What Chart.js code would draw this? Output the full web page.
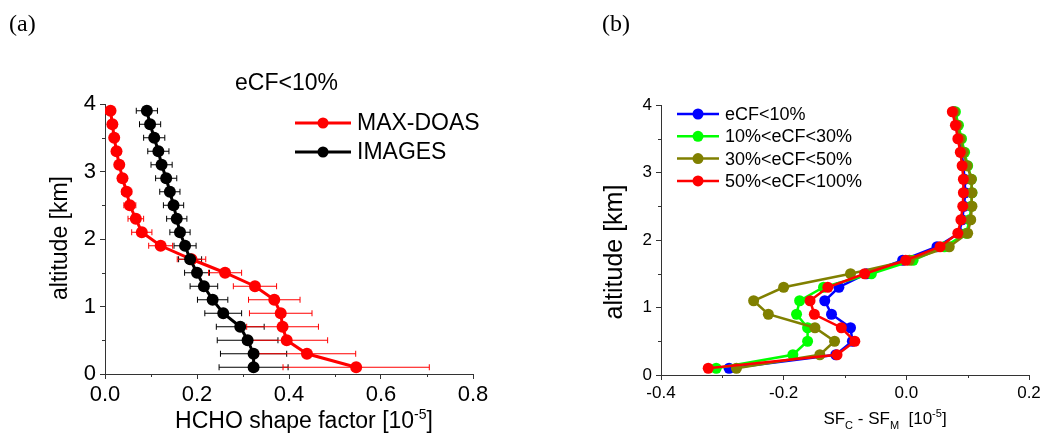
<!DOCTYPE html>
<html>
<head>
<meta charset="utf-8">
<script src="https://cdn.jsdelivr.net/npm/chart.js@4.4.0/dist/chart.umd.min.js"></script>
<style>
  html, body { margin: 0; padding: 0; background: #fff; }
  #wrap { position: relative; width: 1045px; height: 437px; overflow: hidden; }
  .panel { position: absolute; top: 0; height: 437px; }
</style>
</head>
<body>
<div id="wrap">
  <div class="panel" style="left:0;width:520px"><canvas id="chartA"></canvas></div>
  <div class="panel" style="left:520px;width:525px"><canvas id="chartB"></canvas></div>
</div>
<script>
// altitude levels [km]
const altitude = [0.1, 0.3, 0.5, 0.7, 0.9, 1.1, 1.3, 1.5, 1.7, 1.9, 2.1, 2.3, 2.5, 2.7, 2.9, 3.1, 3.3, 3.5, 3.7, 3.9];

// panel (a): shape factors
const maxDoas    = [0.546, 0.439, 0.395, 0.386, 0.382, 0.368, 0.326, 0.261, 0.188, 0.121, 0.080, 0.067, 0.054, 0.047, 0.038, 0.031, 0.025, 0.020, 0.016, 0.012];
const maxDoasErr = [0.159, 0.106, 0.089, 0.078, 0.068, 0.056, 0.047, 0.036, 0.031, 0.026, 0.022, 0.017, 0.013, 0.011, 0.009, 0.008, 0.007, 0.006, 0.005, 0.004];
const images     = [0.323, 0.323, 0.310, 0.294, 0.257, 0.234, 0.215, 0.200, 0.185, 0.174, 0.163, 0.156, 0.149, 0.141, 0.133, 0.123, 0.116, 0.107, 0.098, 0.091];
const imagesErr  = [0.075, 0.072, 0.066, 0.052, 0.040, 0.033, 0.030, 0.027, 0.025, 0.024, 0.022, 0.022, 0.022, 0.022, 0.023, 0.023, 0.023, 0.023, 0.023, 0.023];

// panel (b): SF_C - SF_M per cloud fraction class
const cf10     = [-0.289, -0.115, -0.088, -0.091, -0.122, -0.133, -0.110, -0.065, -0.006, 0.050, 0.086, 0.091, 0.094, 0.096, 0.095, 0.093, 0.090, 0.086, 0.082, 0.077];
const cf10_30  = [-0.310, -0.185, -0.161, -0.161, -0.179, -0.174, -0.135, -0.057, 0.011, 0.062, 0.098, 0.103, 0.106, 0.107, 0.106, 0.100, 0.095, 0.090, 0.085, 0.080];
const cf30_50  = [-0.277, -0.141, -0.117, -0.149, -0.225, -0.249, -0.200, -0.091, 0.005, 0.070, 0.100, 0.105, 0.107, 0.107, 0.106, 0.099, 0.093, 0.088, 0.083, 0.078];
const cf50_100 = [-0.323, -0.113, -0.084, -0.106, -0.150, -0.157, -0.128, -0.068, -0.001, 0.055, 0.084, 0.089, 0.092, 0.093, 0.093, 0.091, 0.088, 0.084, 0.080, 0.075];

// tick labels
const xTicksA = [0, 0.2, 0.4, 0.6, 0.8];
const xMinorA = [0.1, 0.3, 0.5, 0.7];
const xTicksB = [-0.4, -0.2, 0, 0.2];
const xMinorB = [-0.3, -0.1, 0.1];
const yTicks  = [0, 1, 2, 3, 4];
const yMinor  = [0.5, 1.5, 2.5, 3.5];

const SANS = '"Liberation Sans", Arial, sans-serif';
const SERIF = '"Liberation Serif", "Times New Roman", serif';
const AXIS = '#333';

Chart.defaults.font.family = SANS;
Chart.defaults.color = '#000';

function pts(xs) {
  return xs.map((v, i) => ({ x: v, y: altitude[i] }));
}

// draw a line of text made of pieces, some raised or lowered
function richText(ctx, parts, x, y, align) {
  let w = 0;
  parts.forEach(p => { ctx.font = p.size + 'px ' + SANS; p.w = ctx.measureText(p.t).width; w += p.w; });
  let cx = align === 'center' ? x - w / 2 : x;
  ctx.textAlign = 'left';
  ctx.textBaseline = 'alphabetic';
  parts.forEach(p => {
    ctx.font = p.size + 'px ' + SANS;
    ctx.fillText(p.t, cx, y + (p.dy || 0));
    cx += p.w;
  });
}

function legendRow(ctx, color, x, y, len, r, lw, label, size) {
  ctx.strokeStyle = color;
  ctx.fillStyle = color;
  ctx.lineWidth = lw;
  ctx.beginPath();
  ctx.moveTo(x, y);
  ctx.lineTo(x + len, y);
  ctx.stroke();
  ctx.beginPath();
  ctx.arc(x + len / 2, y, r, 0, Math.PI * 2);
  ctx.fill();
  ctx.fillStyle = '#000';
  ctx.font = size + 'px ' + SANS;
  ctx.textAlign = 'left';
  ctx.textBaseline = 'middle';
  ctx.fillText(label, x + len + 6, y + 1);
}

const errorBars = {
  id: 'errorBars',
  beforeDatasetsDraw(chart) {
    const { ctx, scales: { x, y } } = chart;
    chart.data.datasets.forEach(ds => {
      if (!ds.xErr) return;
      ctx.save();
      ctx.strokeStyle = ds.borderColor;
      ctx.lineWidth = 1;
      ds.data.forEach((p, i) => {
        const e = ds.xErr[i];
        const x1 = x.getPixelForValue(p.x - e);
        const x2 = x.getPixelForValue(p.x + e);
        const py = y.getPixelForValue(p.y);
        ctx.beginPath();
        ctx.moveTo(x1, py); ctx.lineTo(x2, py);
        ctx.moveTo(x1, py - 3); ctx.lineTo(x1, py + 3);
        ctx.moveTo(x2, py - 3); ctx.lineTo(x2, py + 3);
        ctx.stroke();
      });
      ctx.restore();
    });
  }
};

function minorTicks(xMinor) {
  return {
    id: 'minorTicks',
    afterDraw(chart) {
      const { ctx, chartArea, scales: { x, y } } = chart;
      ctx.save();
      ctx.strokeStyle = AXIS;
      ctx.lineWidth = 1;
      ctx.beginPath();
      xMinor.forEach(v => {
        const px = Math.round(x.getPixelForValue(v)) + 0.5;
        ctx.moveTo(px, chartArea.bottom); ctx.lineTo(px, chartArea.bottom + 3);
      });
      yMinor.forEach(v => {
        const py = Math.round(y.getPixelForValue(v)) + 0.5;
        ctx.moveTo(chartArea.left, py); ctx.lineTo(chartArea.left - 3, py);
      });
      ctx.stroke();
      ctx.restore();
    }
  };
}

function axes(xmin, xmax, xTicks, xFont, yFont, yWidth, xHeight) {
  return {
    x: {
      type: 'linear', min: xmin, max: xmax,
      afterBuildTicks: s => { s.ticks = xTicks.map(v => ({ value: v })); },
      afterFit: s => { s.height = xHeight; },
      ticks: { font: { size: xFont }, color: '#000', padding: 3, maxRotation: 0,
               callback: v => v.toFixed(1) },
      grid: { drawOnChartArea: false, drawTicks: true, tickLength: 5, color: AXIS },
      border: { display: true, color: AXIS, width: 1 }
    },
    y: {
      type: 'linear', min: 0, max: 4,
      afterBuildTicks: s => { s.ticks = yTicks.map(v => ({ value: v })); },
      afterFit: s => { s.width = yWidth; },
      ticks: { font: { size: yFont }, color: '#000', padding: 4, callback: v => String(v) },
      grid: { drawOnChartArea: false, drawTicks: true, tickLength: 5, color: AXIS },
      border: { display: true, color: AXIS, width: 1 }
    }
  };
}

const common = {
  responsive: true,
  maintainAspectRatio: false,
  animation: false,
  plugins: { legend: { display: false }, tooltip: { enabled: false } }
};

// ---------- panel (a) ----------
const decorA = {
  id: 'decorA',
  afterDraw(chart) {
    const ctx = chart.ctx;
    ctx.save();
    ctx.fillStyle = '#000';
    ctx.font = '24px ' + SERIF;
    ctx.textAlign = 'left';
    ctx.textBaseline = 'middle';
    ctx.fillText('(a)', 9, 25);

    ctx.font = '23px ' + SANS;
    ctx.fillText('eCF<10%', 235, 84);

    legendRow(ctx, '#ff0000', 295, 123, 56, 5.5, 3, 'MAX-DOAS', 23);
    legendRow(ctx, '#000000', 295, 152, 56, 5.5, 3, 'IMAGES', 23);

    ctx.fillStyle = '#000';
    richText(ctx, [
      { t: 'HCHO shape factor [10', size: 23 },
      { t: '-5', size: 14, dy: -9 },
      { t: ']', size: 23 }
    ], 304, 428, 'center');

    ctx.translate(61, 238);
    ctx.rotate(-Math.PI / 2);
    ctx.font = '23px ' + SANS;
    ctx.textAlign = 'center';
    ctx.textBaseline = 'middle';
    ctx.fillText('altitude [km]', 0, 0);
    ctx.restore();
  }
};

new Chart(document.getElementById('chartA'), {
  type: 'scatter',
  data: {
    datasets: [
      { label: 'IMAGES', data: pts(images), xErr: imagesErr, order: 0,
        showLine: true, borderColor: '#000000', backgroundColor: '#000000',
        borderWidth: 3, pointRadius: 6, pointBorderWidth: 0 },
      { label: 'MAX-DOAS', data: pts(maxDoas), xErr: maxDoasErr, order: 1,
        showLine: true, borderColor: '#ff0000', backgroundColor: '#ff0000',
        borderWidth: 3, pointRadius: 6, pointBorderWidth: 0 }
    ]
  },
  options: Object.assign({}, common, {
    layout: { padding: { left: 0, right: 47, top: 104, bottom: 0 } },
    scales: axes(0, 0.8, xTicksA, 22, 22, 105, 63)
  }),
  plugins: [errorBars, minorTicks(xMinorA), decorA]
});

// ---------- panel (b) ----------
const decorB = {
  id: 'decorB',
  afterDraw(chart) {
    const ctx = chart.ctx;
    ctx.save();
    ctx.fillStyle = '#000';
    ctx.font = '24px ' + SERIF;
    ctx.textAlign = 'left';
    ctx.textBaseline = 'middle';
    ctx.fillText('(b)', 82, 25);

    const rows = [
      ['#0000ff', 'eCF<10%'],
      ['#00ff00', '10%<eCF<30%'],
      ['#808000', '30%<eCF<50%'],
      ['#ff0000', '50%<eCF<100%']
    ];
    rows.forEach((r, i) => legendRow(ctx, r[0], 157, 114 + i * 22.3, 42, 5.5, 2.5, r[1], 18));

    ctx.fillStyle = '#000';
    richText(ctx, [
      { t: 'SF', size: 17 },
      { t: 'C', size: 11, dy: 5 },
      { t: ' - SF', size: 17 },
      { t: 'M', size: 11, dy: 5 },
      { t: '  [10', size: 17 },
      { t: '-5', size: 11, dy: -7 },
      { t: ']', size: 17 }
    ], 365, 424, 'center');

    ctx.translate(95, 252);
    ctx.rotate(-Math.PI / 2);
    ctx.font = '25px ' + SANS;
    ctx.textAlign = 'center';
    ctx.textBaseline = 'middle';
    ctx.fillText('altitude [km]', 0, 0);
    ctx.restore();
  }
};

function seriesB(label, values, color, order) {
  return { label: label, data: pts(values), order: order, showLine: true,
           borderColor: color, backgroundColor: color,
           borderWidth: 2.5, pointRadius: 5.5, pointBorderWidth: 0 };
}

new Chart(document.getElementById('chartB'), {
  type: 'scatter',
  data: {
    datasets: [
      seriesB('eCF<10%', cf10, '#0000ff', 3),
      seriesB('10%<eCF<30%', cf10_30, '#00ff00', 2),
      seriesB('30%<eCF<50%', cf30_50, '#808000', 1),
      seriesB('50%<eCF<100%', cf50_100, '#ff0000', 0)
    ]
  },
  options: Object.assign({}, common, {
    layout: { padding: { left: 0, right: 16, top: 105, bottom: 0 } },
    scales: axes(-0.4, 0.2, xTicksB, 17, 17, 141, 62)
  }),
  plugins: [minorTicks(xMinorB), decorB]
});
</script>
</body>
</html>
